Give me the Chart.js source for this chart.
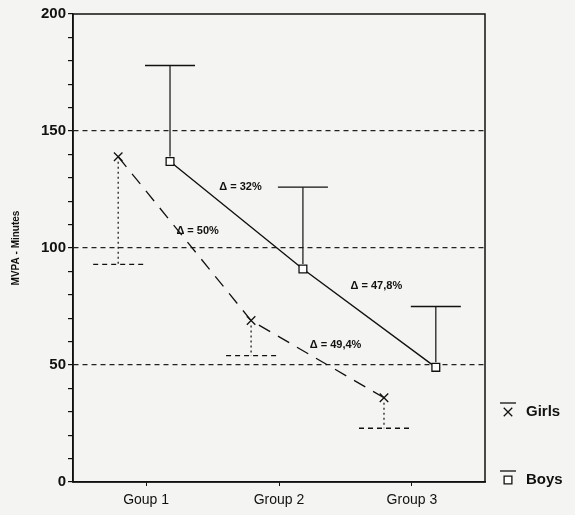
<!DOCTYPE html>
<html>
<head>
<meta charset="utf-8">
<script src="https://cdn.jsdelivr.net/npm/chart.js@4.4.1/dist/chart.umd.min.js"></script>
<style>
    body { margin: 0; background: #f4f4f2; }
</style>
</head>
<body>
<canvas id="mvpa_chart" width="575" height="515"></canvas>
<script>
// values
const groups = ['Goup 1', 'Group 2', 'Group 3'];
const boysMean = [137, 91, 49];
const boysSD = [41, 35, 26];
const girlsMean = [139, 69, 36];
const girlsSD = [46, 15, 13];
const boysDelta = ['Δ = 32%', 'Δ = 47,8%'];
const girlsDelta = ['Δ = 50%', 'Δ = 49,4%'];

// girls are drawn left of the tick, boys right of it
const GIRL_SHIFT = -0.21;
const BOY_SHIFT = 0.18;

Chart.defaults.font.family = '"Liberation Sans", Arial, sans-serif';
Chart.defaults.color = '#111';

const toPoints = (means, shift) => means.map((v, i) => ({x: i + 1 + shift, y: v}));

// SD whiskers: boys go up (solid), girls go down (dotted)
const errorBars = {
    id: 'errorBars',
    afterDatasetsDraw(chart) {
        const ctx = chart.ctx;
        const y = chart.scales.y;
        chart.data.datasets.forEach((ds, di) => {
            const meta = chart.getDatasetMeta(di);
            meta.data.forEach((pt, i) => {
                const endY = y.getPixelForValue(ds.data[i].y + ds.errDir * ds.sd[i]);
                ctx.save();
                ctx.strokeStyle = '#111';
                ctx.lineWidth = 1.2;
                ctx.setLineDash(ds.stemDash);
                ctx.beginPath();
                ctx.moveTo(pt.x, pt.y - ds.errDir * 5);
                ctx.lineTo(pt.x, endY);
                ctx.stroke();
                ctx.setLineDash(ds.capDash);
                ctx.lineWidth = 1.4;
                ctx.beginPath();
                ctx.moveTo(pt.x - 25, endY);
                ctx.lineTo(pt.x + 25, endY);
                ctx.stroke();
                ctx.restore();
            });
        });
    }
};

// percentage drop written next to each segment
const deltaText = {
    id: 'deltaText',
    afterDatasetsDraw(chart) {
        const ctx = chart.ctx;
        ctx.save();
        ctx.font = 'bold 11px "Liberation Sans", Arial, sans-serif';
        ctx.fillStyle = '#111';
        ctx.textAlign = 'center';
        ctx.textBaseline = 'middle';
        chart.data.datasets.forEach((ds, di) => {
            const pts = chart.getDatasetMeta(di).data;
            ds.deltas.forEach((txt, i) => {
                const mx = (pts[i].x + pts[i + 1].x) / 2 + ds.deltaOffset[i][0];
                const my = (pts[i].y + pts[i + 1].y) / 2 + ds.deltaOffset[i][1];
                ctx.fillText(txt, mx, my);
            });
        });
        ctx.restore();
    }
};

// box round the plot + legend on the right
const frameAndLegend = {
    id: 'frameAndLegend',
    afterDraw(chart) {
        const {ctx, chartArea} = chart;
        ctx.save();
        ctx.strokeStyle = '#111';
        ctx.lineWidth = 1.5;
        ctx.setLineDash([]);
        ctx.strokeRect(chartArea.left, chartArea.top, chartArea.right - chartArea.left, chartArea.bottom - chartArea.top);

        const sx = chartArea.right + 23;
        const tx = chartArea.right + 41;
        const rows = [chartArea.bottom - 70, chartArea.bottom - 2];
        ctx.font = 'bold 15px "Liberation Sans", Arial, sans-serif';
        ctx.fillStyle = '#111';
        ctx.textBaseline = 'middle';
        chart.data.datasets.forEach((ds, di) => {
            const ry = rows[di];
            ctx.lineWidth = 1.3;
            ctx.beginPath();
            ctx.moveTo(sx - 8, ry - 9);
            ctx.lineTo(sx + 8, ry - 9);
            ctx.stroke();
            ctx.fillStyle = '#fff';
            Chart.helpers.drawPoint(ctx, {pointStyle: ds.pointStyle, radius: ds.pointRadius, borderWidth: 1.2, rotation: 0}, sx, ry);
            ctx.fillStyle = '#111';
            ctx.fillText(ds.label, tx, ry);
        });
        ctx.restore();
    }
};

const ctxEl = document.getElementById('mvpa_chart');
new Chart(ctxEl, {
    type: 'line',
    data: {
        datasets: [{
            label: 'Girls',
            data: toPoints(girlsMean, GIRL_SHIFT),
            sd: girlsSD,
            errDir: -1,
            stemDash: [2, 3],
            capDash: [5, 4],
            deltas: girlsDelta,
            deltaOffset: [[13, -8], [18, -14]],
            borderColor: '#111',
            borderWidth: 1.3,
            borderDash: [13, 9],
            pointStyle: 'crossRot',
            pointRadius: 6,
            pointBorderColor: '#111',
            pointBorderWidth: 1.3,
            tension: 0
        }, {
            label: 'Boys',
            data: toPoints(boysMean, BOY_SHIFT),
            sd: boysSD,
            errDir: 1,
            stemDash: [],
            capDash: [],
            deltas: boysDelta,
            deltaOffset: [[4, -28], [7, -32]],
            borderColor: '#111',
            borderWidth: 1.4,
            pointStyle: 'rect',
            pointRadius: 5.5,
            pointBackgroundColor: '#fff',
            pointBorderColor: '#111',
            pointBorderWidth: 1.3,
            tension: 0
        }]
    },
    options: {
        responsive: false,
        animation: false,
        layout: {padding: {left: 0, right: 90, top: 14, bottom: 0}},
        plugins: {
            legend: {display: false},
            tooltip: {enabled: false}
        },
        scales: {
            x: {
                type: 'linear',
                min: 0.45,
                max: 3.55,
                afterBuildTicks(s) { s.ticks = groups.map((g, i) => ({value: i + 1})); },
                afterFit(s) { s.height = 33; },
                ticks: {
                    callback: v => groups[v - 1],
                    font: {size: 14},
                    padding: 6,
                    autoSkip: false,
                    maxRotation: 0
                },
                grid: {drawOnChartArea: false, tickLength: 4, tickColor: '#111'},
                border: {color: '#111', width: 1.5}
            },
            y: {
                min: 0,
                max: 200,
                afterFit(s) { s.width = 73; },
                ticks: {
                    stepSize: 10,
                    autoSkip: false,
                    padding: 2,
                    font: {size: 15, weight: 'bold'},
                    callback: v => (v % 50 === 0 ? v : '')
                },
                grid: {
                    color: c => (c.tick && c.tick.value % 50 === 0 && c.tick.value > 0 && c.tick.value < 200) ? '#222' : 'transparent',
                    lineWidth: 1.2,
                    tickColor: '#111',
                    tickLength: 5
                },
                border: {color: '#111', width: 1.5, dash: [5, 4]},
                title: {
                    display: true,
                    text: 'MVPA - Minutes',
                    font: {size: 10, weight: 'bold'},
                    padding: {top: 10, bottom: 0}
                }
            }
        }
    },
    plugins: [errorBars, deltaText, frameAndLegend]
});
</script>
</body>
</html>
